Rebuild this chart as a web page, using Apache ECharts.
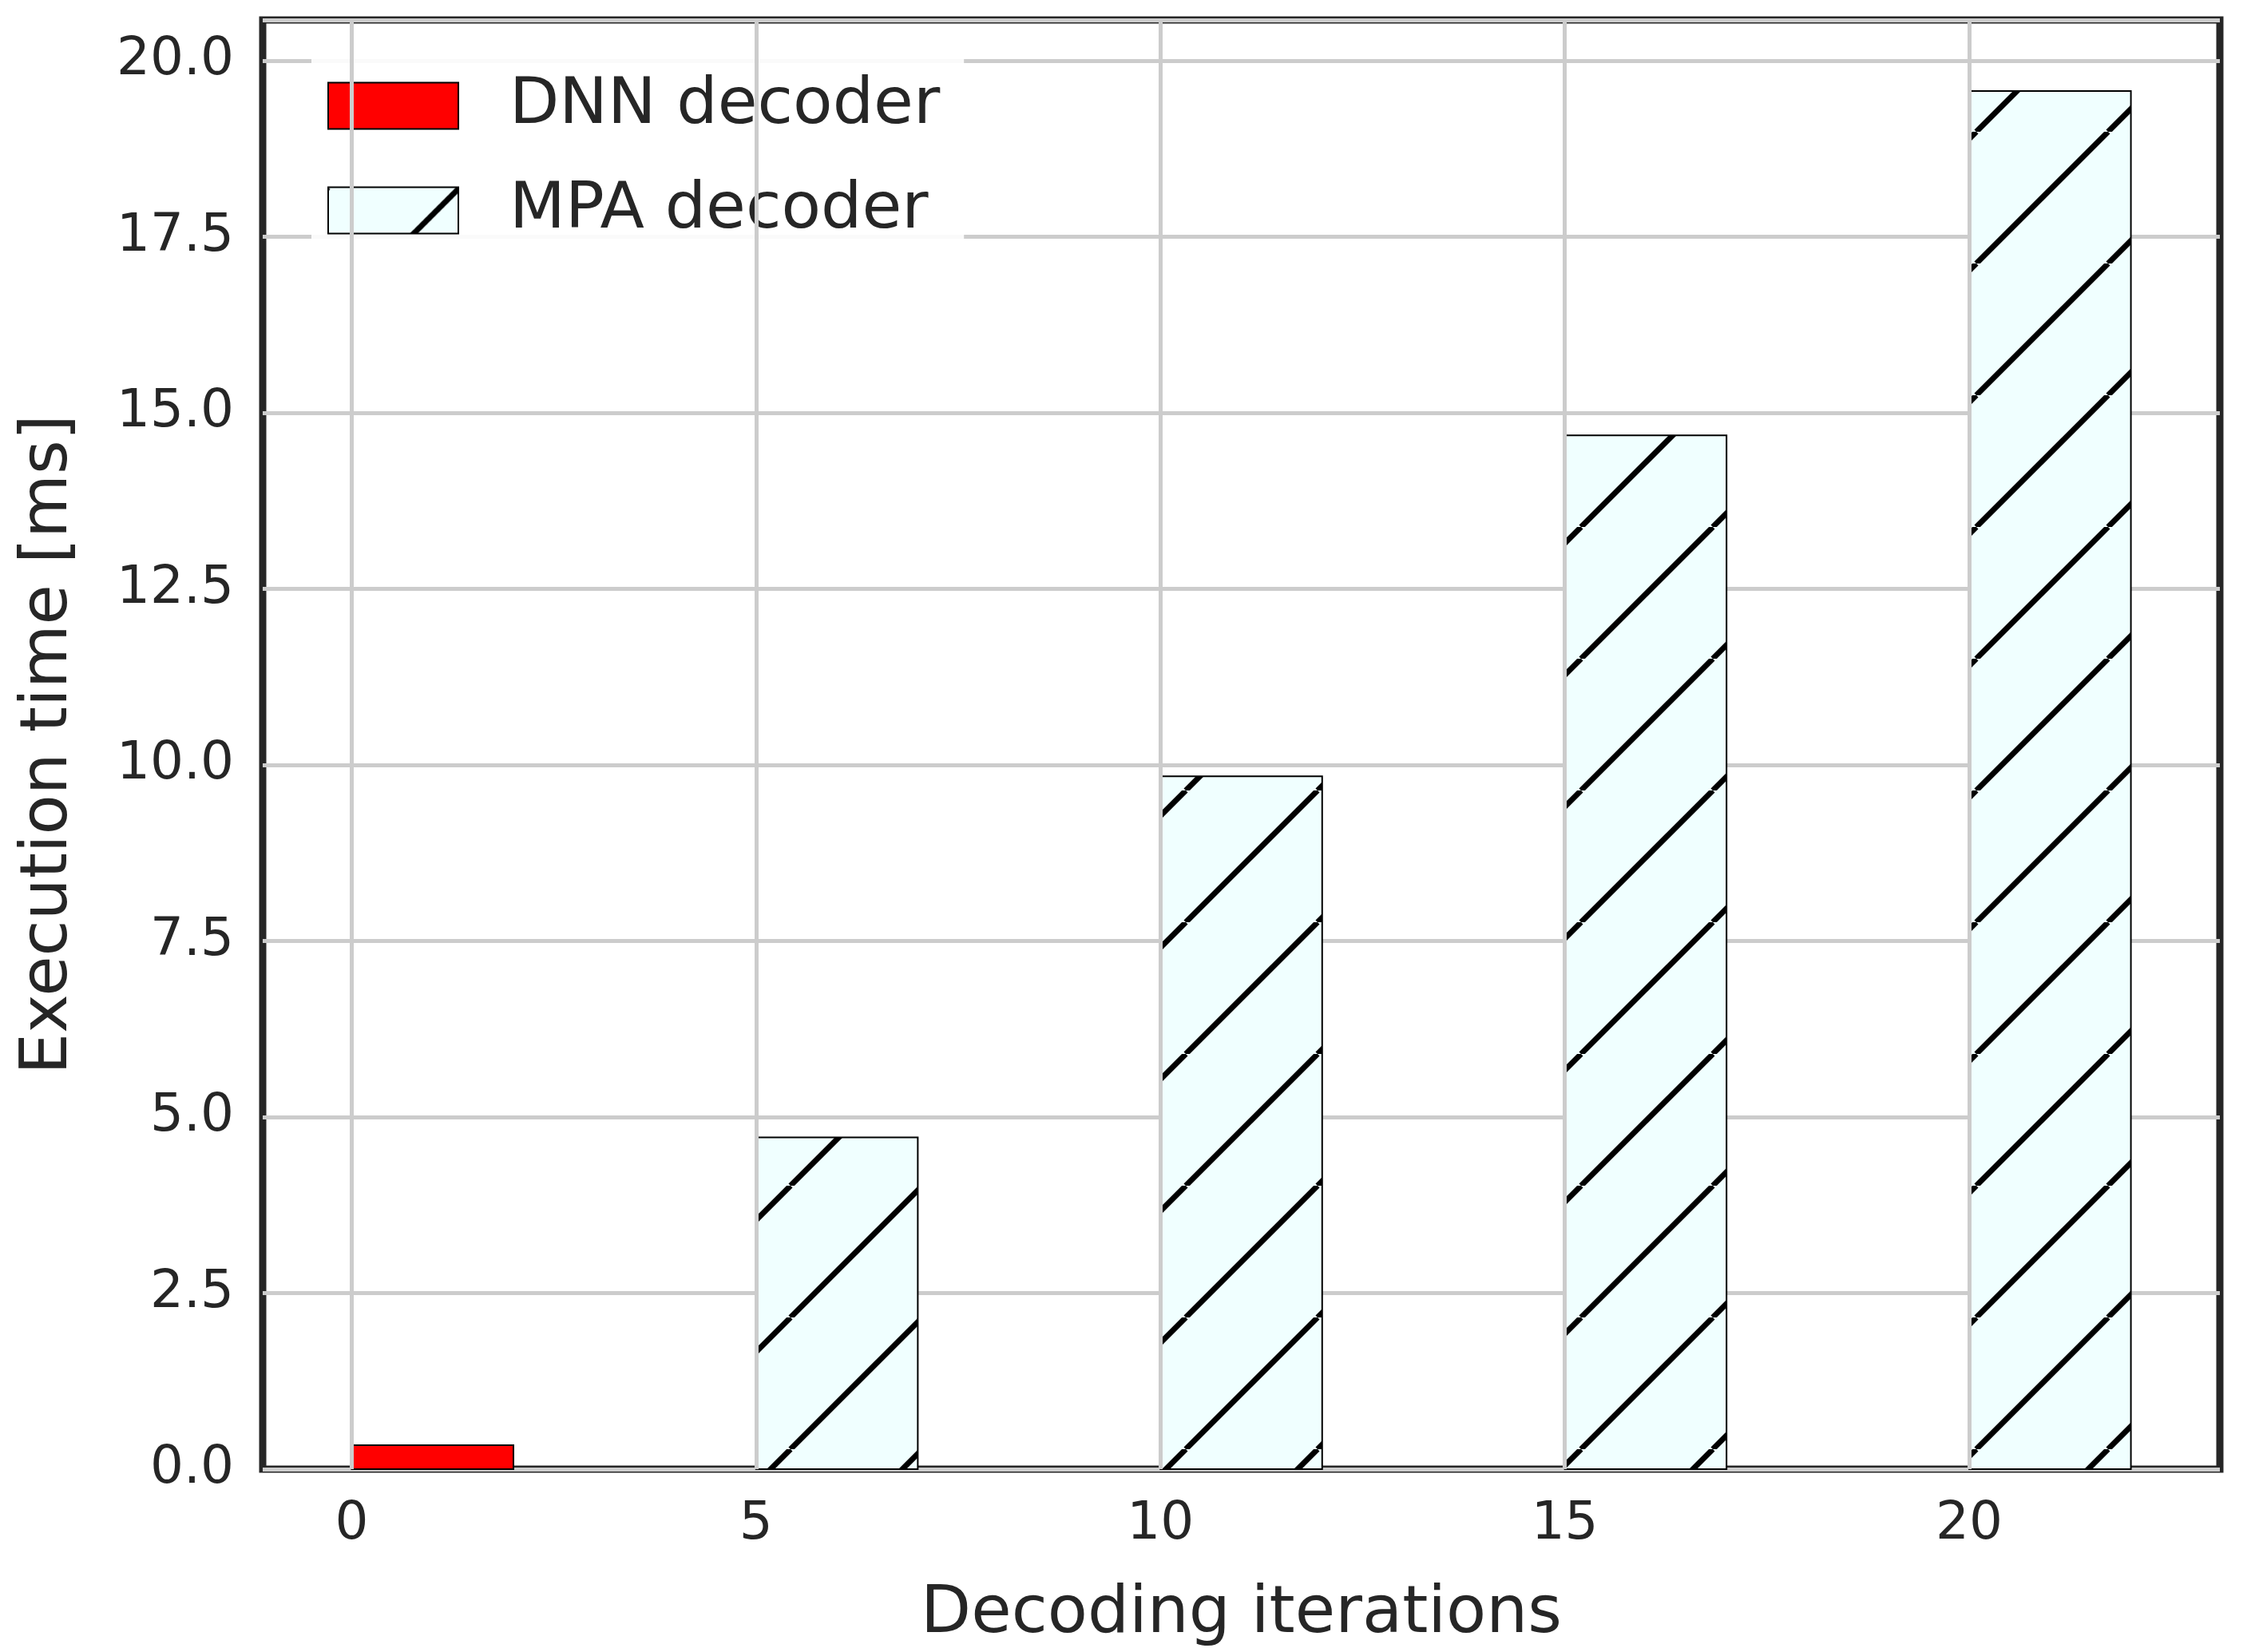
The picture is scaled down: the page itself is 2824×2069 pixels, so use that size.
<!DOCTYPE html>
<html><head><meta charset="utf-8">
<script src="https://cdn.jsdelivr.net/npm/echarts@6/dist/echarts.min.js"></script>
<style>html,body{margin:0;padding:0;background:#fff}#c{width:2824px;height:2069px}</style>
</head><body><div id="c"></div>
<script>
const iterations = [0, 5, 10, 15, 20];
const dnnIter = [0];
const dnnTime = [0.34];
const mpaIter = [5, 10, 15, 20];
const mpaTime = [4.71, 9.84, 14.68, 19.57];
const yTicks = [0, 2.5, 5, 7.5, 10, 12.5, 15, 17.5, 20];

const T = 165;
const cv = document.createElement('canvas');
cv.width = T; cv.height = T;
const g = cv.getContext('2d');
g.fillStyle = '#f0ffff'; g.fillRect(0, 0, T, T);
g.strokeStyle = '#000'; g.lineWidth = 7;
for (const o of [-T, 0, T]) { g.beginPath(); g.moveTo(o, T); g.lineTo(o + T, 0); g.stroke(); }
const hatch = { image: cv, repeat: 'repeat' };

const txt = '#262626';
const font = 'DejaVu Sans';
function barItem(fill) {
  return function (params, api) {
    const x = api.value(0), h = api.value(1);
    const p0 = api.coord([x, h]), p1 = api.coord([x + 2, 0]);
    return { type: 'rect', shape: { x: p0[0], y: p0[1], width: p1[0] - p0[0], height: p1[1] - p0[1] },
      style: { fill: fill, stroke: '#000', lineWidth: 2 } };
  };
}
const chart = echarts.init(document.getElementById('c'));
chart.setOption({
  animation: false,
  grid: { left: 329, right: 44, top: 25, bottom: 190, show: true, borderColor: '#262626', borderWidth: 9, backgroundColor: 'transparent' },
  legend: {
    left: 390, top: 62, orient: 'vertical', itemWidth: 163, itemHeight: 58, itemGap: 50,
    backgroundColor: 'rgba(255,255,255,0.9)', padding: [30, 30, 30, 20],
    textStyle: { fontFamily: font, fontSize: 81, color: txt, padding: [0, 0, 0, 59] },
    data: [
      { name: 'DNN decoder', icon: 'rect', itemStyle: { color: '#ff0000', borderColor: '#000', borderWidth: 2 } },
      { name: 'MPA decoder', icon: 'rect', itemStyle: { color: hatch, borderColor: '#000', borderWidth: 2 } }
    ]
  },
  xAxis: {
    type: 'value', min: -1.1, max: 23.1,
    name: 'Decoding iterations', nameLocation: 'middle', nameGap: 142,
    nameTextStyle: { fontFamily: font, fontSize: 82, color: txt },
    axisLine: { show: false }, axisTick: { show: false }, axisLabel: { show: false }, splitLine: { show: false }
  },
  yAxis: {
    type: 'value', min: 0, max: 20.58, interval: 2.5,
    name: 'Execution time [ms]', nameLocation: 'middle', nameGap: 226,
    nameTextStyle: { fontFamily: font, fontSize: 82, color: txt },
    axisLine: { show: false }, axisTick: { show: false },
    axisLabel: { fontFamily: font, fontSize: 66, color: txt, margin: 36, showMaxLabel: false, formatter: v => v.toFixed(1) },
    splitLine: { lineStyle: { color: '#cccccc', width: 5 } }
  },
  series: [
    { type: 'line', data: [], silent: true,
      markLine: { silent: true, symbol: 'none', label: { show: false }, lineStyle: { color: '#cccccc', width: 5, type: 'solid' },
        data: iterations.map(v => ({ xAxis: v })) } },
    { type: 'custom', silent: true, data: iterations.map(v => [v]),
      renderItem: function (params, api) {
        const p = api.coord([api.value(0), 0]);
        return { type: 'text', style: { text: String(api.value(0)), x: p[0], y: p[1] + 70, align: 'center', verticalAlign: 'middle',
          fontFamily: font, fontSize: 66, fill: txt } };
      } },
    { name: 'DNN decoder', type: 'custom', renderItem: barItem('#ff0000'), itemStyle: { color: '#ff0000' },
      data: dnnIter.map((x, i) => [x, dnnTime[i]]), encode: { x: 0, y: 1 } },
    { name: 'MPA decoder', type: 'custom', renderItem: barItem(hatch), itemStyle: { color: hatch },
      data: mpaIter.map((x, i) => [x, mpaTime[i]]), encode: { x: 0, y: 1 } }
  ]
});
</script></body></html>
